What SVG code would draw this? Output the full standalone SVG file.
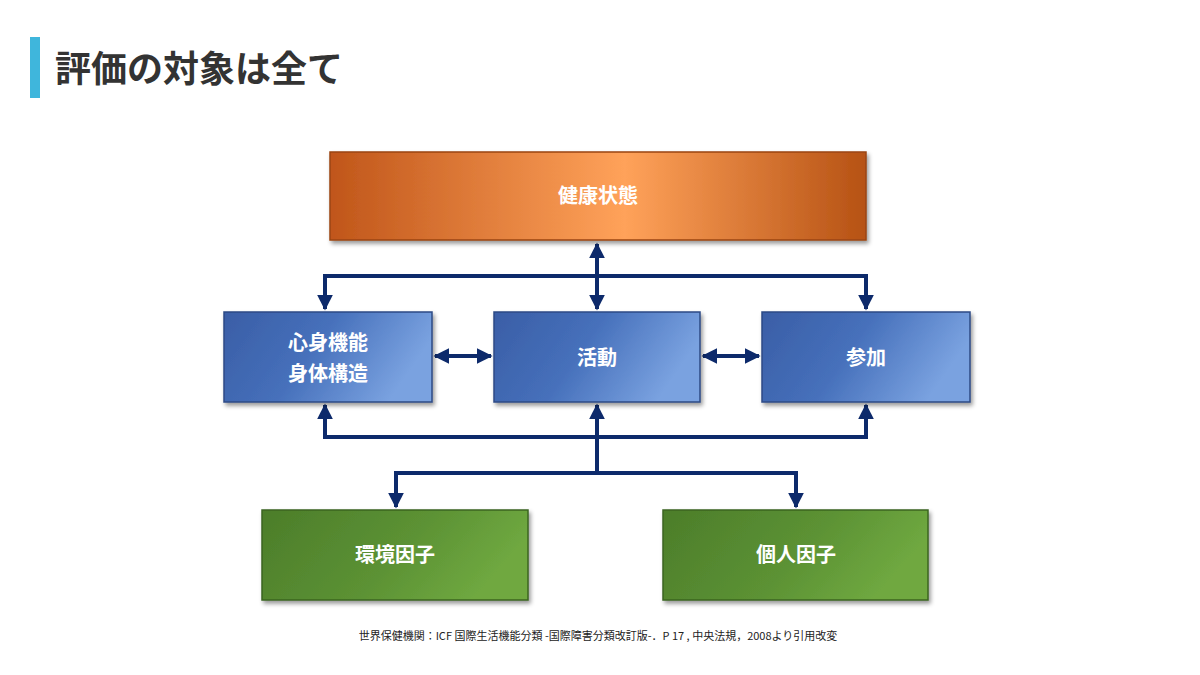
<svg xmlns="http://www.w3.org/2000/svg" width="1200" height="675" viewBox="0 0 1200 675">
<defs>
<linearGradient id="og" x1="0" x2="1" y1="0" y2="0"><stop offset="0" stop-color="#c0561a"/><stop offset="0.55" stop-color="#ffa25a"/><stop offset="1" stop-color="#b65214"/></linearGradient>
<linearGradient id="bg" x1="0" x2="1" y1="0" y2="0.3"><stop offset="0" stop-color="#3a5ea6"/><stop offset="0.5" stop-color="#4670bb"/><stop offset="1" stop-color="#7aa2e0"/></linearGradient>
<linearGradient id="gg" x1="0" x2="1" y1="0" y2="0.3"><stop offset="0" stop-color="#4c7d2a"/><stop offset="0.6" stop-color="#5c9234"/><stop offset="1" stop-color="#6fa840"/></linearGradient>
<filter id="sh" x="-5%" y="-5%" width="115%" height="125%"><feDropShadow dx="2" dy="3" stdDeviation="2" flood-opacity="0.4"/></filter>
<marker id="ah" viewBox="0 0 10 10" refX="9" refY="5" markerWidth="4" markerHeight="4" orient="auto-start-reverse"><path d="M0,0 L10,5 L0,10 z" fill="#0d2a6b"/></marker>
</defs>
<style>
.box{filter:url(#sh);stroke-width:1.5}
.o{fill:url(#og);stroke:#9a4512}
.b{fill:url(#bg);stroke:#2c4a85}
.g{fill:url(#gg);stroke:#3b6420}
.t{font-family:"Noto Sans CJK JP",sans-serif;font-weight:bold;font-size:20px;fill:#fff;text-anchor:middle}
.c{fill:none;stroke:#0d2a6b;stroke-width:4}
</style>
<rect x="30" y="37" width="10" height="61" fill="#3fb6dc"/>
<text x="55" y="82" font-family="'Noto Sans CJK JP',sans-serif" font-weight="bold" font-size="36" fill="#333">評価の対象は全て</text>
<g id="connectors" class="c">
<line x1="597" y1="244" x2="597" y2="309" marker-start="url(#ah)" marker-end="url(#ah)"/>
<polyline points="325,309 325,276 866,276 866,309" marker-start="url(#ah)" marker-end="url(#ah)"/>
<line x1="435" y1="356" x2="491" y2="356" marker-start="url(#ah)" marker-end="url(#ah)"/>
<line x1="703" y1="356" x2="759" y2="356" marker-start="url(#ah)" marker-end="url(#ah)"/>
<polyline points="325,405 325,437 866,437 866,405" marker-start="url(#ah)" marker-end="url(#ah)"/>
<line x1="597" y1="473" x2="597" y2="405" marker-end="url(#ah)"/>
<polyline points="396,507 396,473 796,473 796,507" marker-start="url(#ah)" marker-end="url(#ah)"/>
</g>
<g id="health"><rect class="box o" x="330" y="152" width="536" height="88"/><text class="t" x="598" y="203">健康状態</text></g>
<g id="body"><rect class="box b" x="224" y="312" width="208" height="90"/><text class="t" x="328" y="350">心身機能</text><text class="t" x="328" y="381">身体構造</text></g>
<g id="activity"><rect class="box b" x="494" y="312" width="206" height="90"/><text class="t" x="597" y="365">活動</text></g>
<g id="participation"><rect class="box b" x="762" y="312" width="208" height="90"/><text class="t" x="866" y="365">参加</text></g>
<g id="env"><rect class="box g" x="262" y="510" width="266" height="90"/><text class="t" x="395" y="562">環境因子</text></g>
<g id="personal"><rect class="box g" x="663" y="510" width="265" height="90"/><text class="t" x="796" y="562">個人因子</text></g>
<text x="598" y="640" font-family="'Noto Sans CJK JP',sans-serif" font-size="11" fill="#222" text-anchor="middle">世界保健機関：ICF 国際生活機能分類 -国際障害分類改訂版-．P 17 , 中央法規，2008より引用改変</text>
</svg>
